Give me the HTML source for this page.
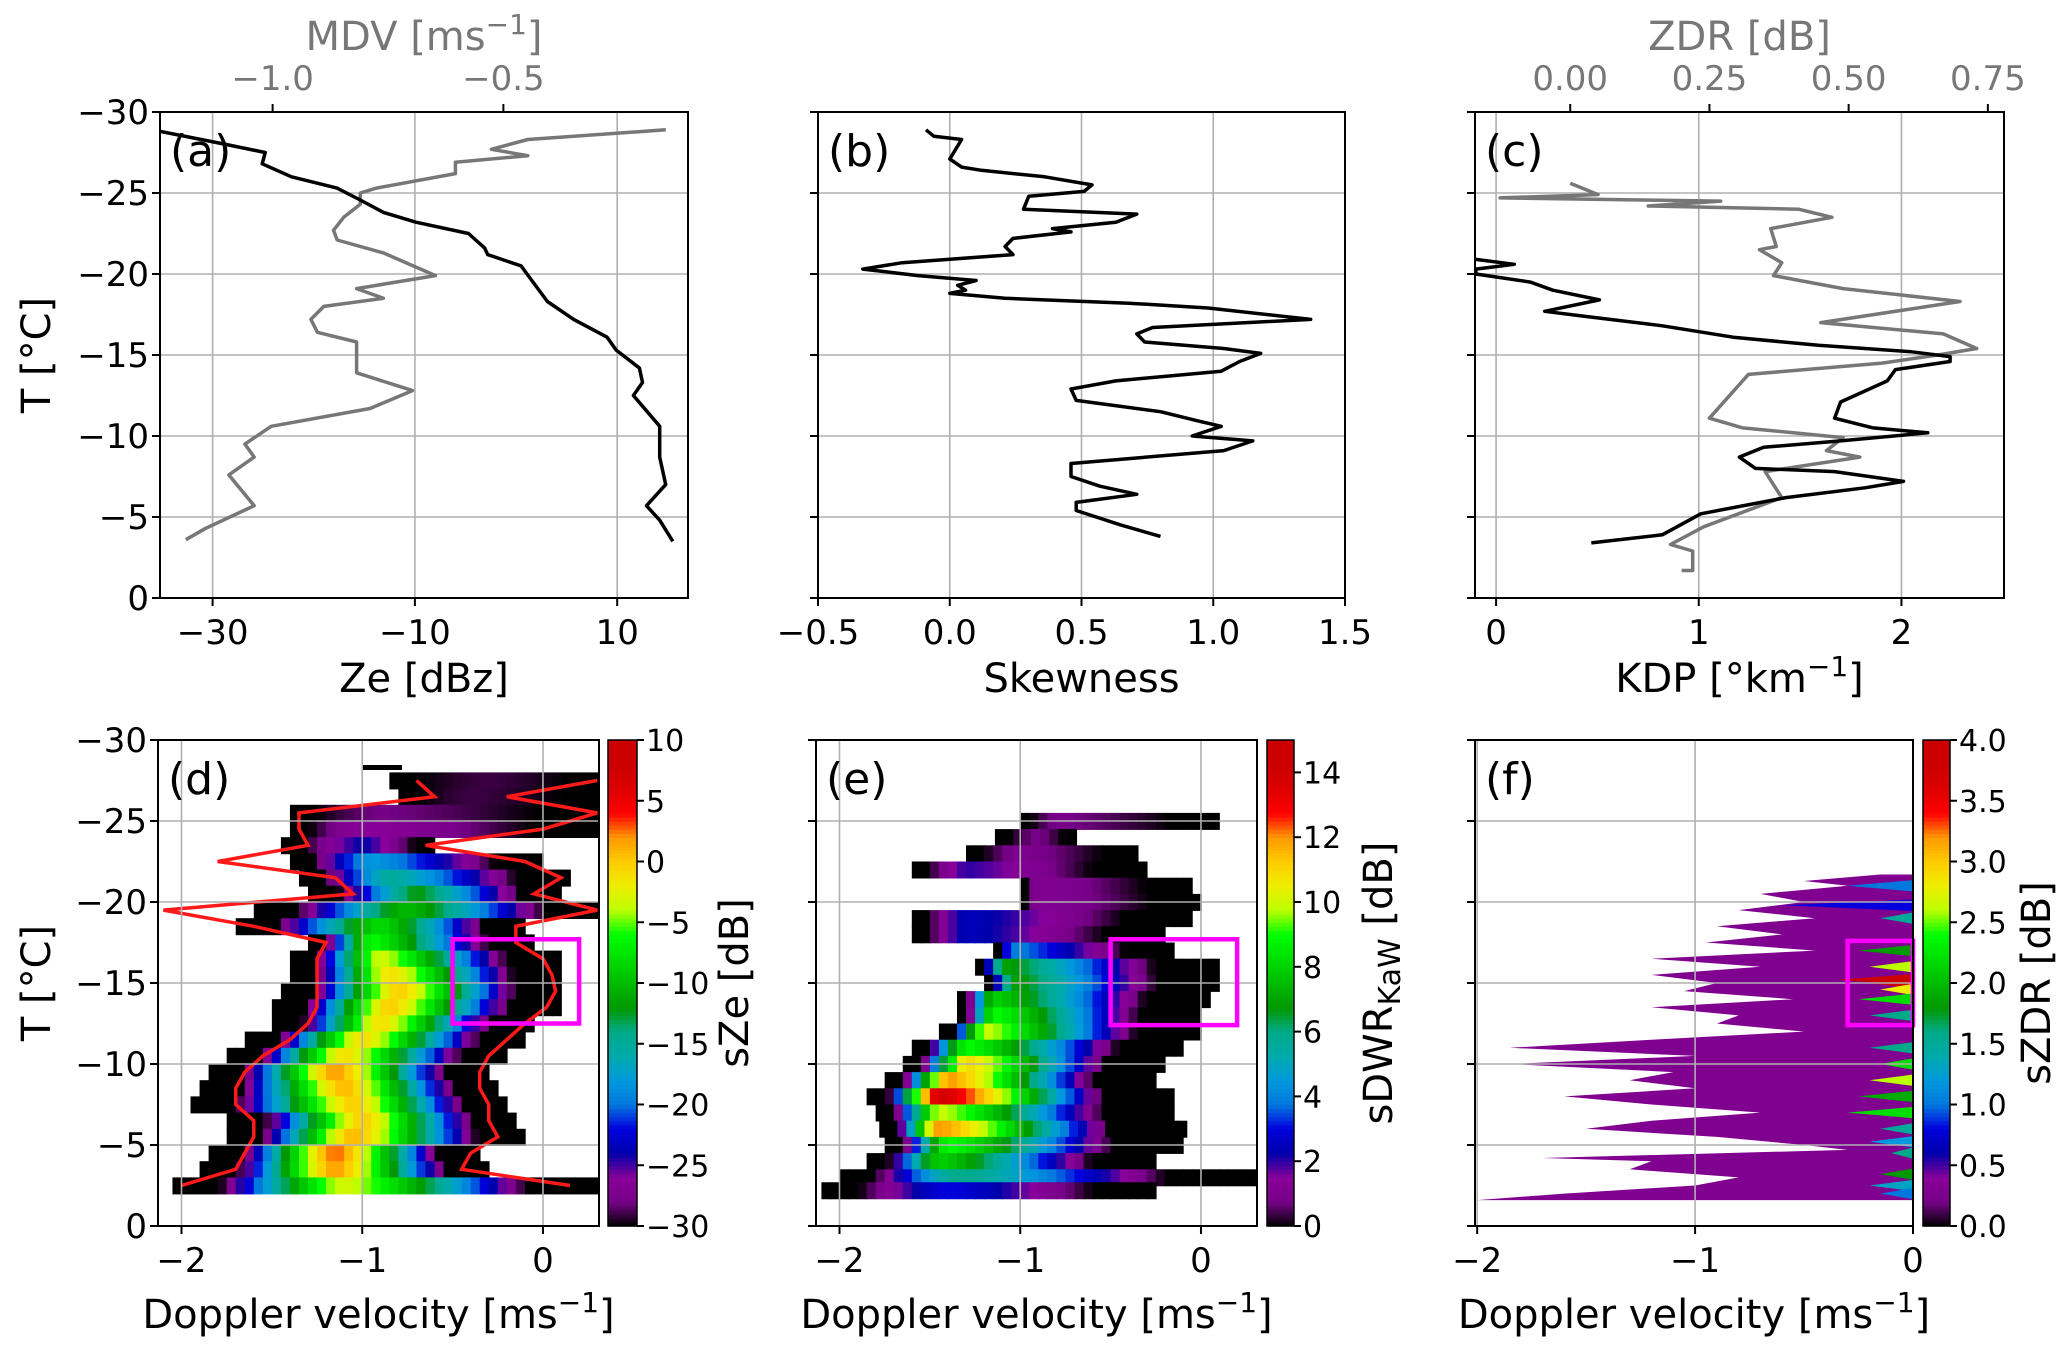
<!DOCTYPE html>
<html><head><meta charset="utf-8"><style>
html,body{margin:0;padding:0;background:#fff;}
svg{display:block;font-family:"DejaVu Sans","Liberation Sans",sans-serif;}
</style></head><body>
<svg id="fig" width="2067" height="1354" viewBox="0 0 2067 1354" xmlns="http://www.w3.org/2000/svg"></svg>
<script>
// ---------- data: panel (a) ----------
const zeT   = [-28.8,-28,-27.5,-26.8,-26,-25.3,-24.6,-23.8,-23.2,-22.5,-21.6,-21.2,-20.5,-19.9,-18.3,-17.2,-16.1,-15.3,-14.2,-13.3,-12.5,-10.6,-8.7,-7.0,-5.7,-4.8,-3.5];
const zeVal = [-35.2,-28.7,-24.8,-25.1,-22.2,-17.7,-15.5,-13.1,-9.9,-4.7,-3.1,-2.8,0.5,1.2,3.1,5.7,9,9.9,12.2,12.5,11.6,14.2,14.2,14.8,12.9,14.2,15.5];
const mdvT   = [-28.9,-28.3,-27.7,-27.3,-26.9,-26.2,-25.3,-25.0,-24.3,-23.5,-22.7,-22.1,-21.3,-19.9,-19.1,-18.5,-18.0,-17.2,-16.4,-15.8,-13.9,-12.8,-11.7,-10.6,-9.5,-8.7,-7.6,-5.7,-4.3,-3.6];
const mdvVal = [-0.148,-0.447,-0.526,-0.447,-0.604,-0.604,-0.775,-0.81,-0.81,-0.846,-0.868,-0.86,-0.76,-0.647,-0.818,-0.76,-0.889,-0.917,-0.903,-0.818,-0.818,-0.697,-0.789,-1.003,-1.06,-1.04,-1.095,-1.04,-1.145,-1.188];
// ---------- data: panel (b) ----------
const skT   = [-28.9,-28.5,-28.3,-27.1,-26.6,-26.4,-26.0,-25.5,-25.1,-24.8,-24.0,-23.7,-23.2,-22.8,-22.6,-22.2,-21.7,-21.2,-20.7,-20.3,-19.9,-19.6,-19.3,-19.0,-18.8,-18.5,-18.2,-17.9,-17.2,-16.7,-16.3,-15.8,-15.4,-15.1,-14.6,-14.0,-13.4,-12.9,-12.2,-11.5,-10.9,-10.6,-10.0,-9.7,-9.1,-8.3,-7.5,-6.9,-6.4,-5.9,-5.4,-4.5,-3.8];
const skVal = [-0.09,-0.06,0.045,0,0.045,0.12,0.36,0.54,0.51,0.30,0.28,0.71,0.63,0.39,0.46,0.24,0.21,0.24,-0.18,-0.33,-0.12,0.10,0.03,0.06,0,0.21,0.68,0.98,1.37,0.77,0.71,0.74,1.04,1.18,1.10,1.03,0.63,0.46,0.48,0.80,0.95,1.03,0.92,1.15,1.04,0.46,0.46,0.57,0.71,0.48,0.48,0.65,0.80];
// ---------- data: panel (c) ----------
const kdpT   = [-20.9,-20.6,-20.3,-20.0,-19.5,-19.0,-18.4,-17.7,-17.4,-16.8,-16.1,-15.6,-15.2,-14.9,-14.6,-14.1,-13.4,-12.1,-11.1,-10.5,-10.2,-9.7,-9.3,-8.7,-8.0,-7.8,-7.2,-6.8,-6.2,-5.2,-3.9,-3.4];
const kdpVal = [-0.10,0.09,-0.1,-0.1,0.17,0.28,0.51,0.24,0.43,0.82,1.17,1.59,2.05,2.24,2.24,1.97,1.93,1.70,1.67,1.86,2.13,1.70,1.32,1.20,1.28,1.67,2.01,1.82,1.43,1.01,0.82,0.47];
const zdrT   = [-25.6,-24.9,-24.7,-24.5,-24.2,-24.0,-23.5,-22.8,-21.7,-21.5,-20.7,-19.9,-19.1,-18.3,-17.0,-16.3,-15.4,-15.0,-14.5,-13.8,-11.1,-10.5,-9.9,-9.1,-8.7,-7.8,-6.2,-4.4,-3.3,-2.9,-1.7,-1.7];
const zdrVal = [0,0.05,-0.126,0.27,0.14,0.41,0.47,0.36,0.37,0.34,0.38,0.365,0.49,0.70,0.45,0.67,0.73,0.66,0.56,0.32,0.25,0.31,0.49,0.46,0.52,0.35,0.38,0.24,0.18,0.22,0.22,0.20];
// ---------- data: panel (d) spectrogram rows ----------
const dT    = [-27.5,-26.5,-25.5,-24.5,-23.5,-22.5,-21.5,-20.5,-19.5,-18.5,-17.5,-16.5,-15.5,-14.5,-13.5,-12.5,-11.5,-10.5,-9.5,-8.5,-7.5,-6.5,-5.5,-4.5,-3.5,-2.5];
const dLeft = [-0.85,-0.8,-1.4,-1.4,-1.45,-1.4,-1.35,-1.3,-1.6,-1.7,-1.3,-1.4,-1.4,-1.45,-1.5,-1.5,-1.65,-1.75,-1.85,-1.9,-1.95,-1.75,-1.75,-1.85,-1.9,-2.05];
const dRight= [0.3,0.3,0.3,0.3,-0.6,0.0,0.12,0.1,0.3,-0.1,-0.05,0.07,0.1,0.1,0.07,-0.05,-0.1,-0.2,-0.3,-0.25,-0.2,-0.15,-0.1,-0.35,-0.3,0.3];
const dPeakV= [-0.3,-0.4,-0.9,-1.0,-1.0,-0.95,-0.85,-0.7,-0.75,-0.9,-0.95,-0.9,-0.85,-0.8,-0.85,-0.9,-1.0,-1.1,-1.15,-1.1,-1.05,-1.0,-1.05,-1.15,-1.15,-1.1];
const dPeak = [-29,-29,-28,-26,-24,-18,-15,-12,-10,-8,-6,-3,-1,0,0,-1,-1,-1,2,1,0,0,1,3,2,-3];
const dRedL = [-0.7,-0.6,-1.35,-1.35,-1.3,-1.8,-1.15,-1.05,-2.1,-1.6,-1.2,-1.25,-1.25,-1.25,-1.25,-1.3,-1.4,-1.55,-1.65,-1.7,-1.7,-1.6,-1.6,-1.65,-1.7,-2.0];
const dRedR = [0.3,-0.2,0.3,0.0,-0.65,-0.1,0.1,-0.05,0.3,-0.15,-0.15,0.0,0.05,0.07,0.02,-0.1,-0.2,-0.3,-0.35,-0.35,-0.3,-0.3,-0.25,-0.4,-0.45,0.15];
// ---------- data: panel (e) ----------
const eT    = [-25,-24,-23,-22,-21,-20,-19,-18,-17,-16,-15,-14,-13,-12,-11,-10,-9,-8,-7,-6,-5,-4,-3,-2.2];
const eLeft = [-1.0,-1.14,-1.3,-1.6,-1.0,-1.0,-1.6,-1.6,-1.15,-1.25,-1.2,-1.35,-1.35,-1.45,-1.6,-1.65,-1.75,-1.85,-1.8,-1.78,-1.75,-1.85,-2.0,-2.1];
const eRight= [0.1,-0.7,-0.35,-0.3,-0.05,0.0,-0.05,-0.2,-0.15,0.1,0.1,0.05,0.0,0.0,-0.1,-0.2,-0.25,-0.15,-0.15,-0.1,-0.1,-0.25,0.3,-0.25];
const ePeakV= [-0.8,-0.9,-1.0,-1.3,-0.9,-0.9,-1.3,-1.3,-1.05,-1.1,-1.05,-1.15,-1.15,-1.2,-1.3,-1.3,-1.4,-1.45,-1.45,-1.45,-1.4,-1.45,-1.35,-1.4];
const ePeak = [0.8,0.8,1,2,1.2,1.2,2.5,2.5,4,7,7,8,9,10,9,11,12,14,10,12,9,8,6,3];
// ---------- data: panel (f) ----------
const fT    = [-21.7,-21.3,-21,-20.5,-20,-19.5,-19,-18.5,-18,-17.5,-17,-16.5,-16,-15.5,-15,-14.5,-14,-13.5,-13,-12.5,-12,-11.5,-11,-10.5,-10,-9.5,-9,-8.5,-8,-7.5,-7,-6.5,-6,-5.5,-5,-4.7,-4.2,-4,-3.5,-3,-2.5,-2,-1.6];
const fLeft = [-0.15,-0.5,-0.3,-0.7,-0.5,-0.8,-0.45,-0.9,-0.6,-0.95,-0.45,-1.2,-0.7,-1.2,-0.9,-1.05,-0.55,-1.2,-0.8,-0.9,-0.5,-1.2,-1.85,-1.0,-1.85,-1.1,-1.3,-1.0,-1.6,-1.2,-0.7,-1.2,-1.5,-0.9,-0.5,-0.3,-1.7,-1.2,-1.3,-0.8,-1.0,-1.6,-2.0];
const fStreakT = [-21,-19.8,-19,-17,-16,-15.2,-15,-14.6,-14,-13,-11,-10,-9,-8,-7,-6,-5.2,-4.5,-3.2,-2.5,-2];
const fStreakV = [-0.3,-0.6,-0.15,-0.25,-0.2,-0.35,-0.2,-0.15,-0.25,-0.2,-0.2,-0.15,-0.2,-0.25,-0.3,-0.15,-0.2,-0.1,-0.15,-0.2,-0.15];
const fStreakZ = [1.0,0.8,1.5,1.8,2.6,3.8,3.9,2.8,2.2,1.6,1.6,2.2,2.6,1.9,2.2,1.5,1.2,1.6,1.8,1.3,1.0];
// ---------- ticks ----------
const tTicks = [-30,-25,-20,-15,-10,-5,0];
const zeTicks = [-30,-10,10];
const mdvTicks = [-1.0,-0.5];
const skTicks = [-0.5,0.0,0.5,1.0,1.5];
const kdpTicks = [0,1,2];
const zdrTicks = [0.00,0.25,0.50,0.75];
const velTicks = [-2,-1,0];
const cbDTicks = [-30,-25,-20,-15,-10,-5,0,5,10];
const cbETicks = [0,2,4,6,8,10,12,14];
const cbFTicks = [0.0,0.5,1.0,1.5,2.0,2.5,3.0,3.5,4.0];

const NS='http://www.w3.org/2000/svg';
const svg=document.getElementById('fig');
function el(tag,attrs,parent){const e=document.createElementNS(NS,tag);for(const k in attrs)e.setAttribute(k,attrs[k]);(parent||svg).appendChild(e);return e;}
function lin(d0,d1,r0,r1){return v=>r0+(v-d0)*(r1-r0)/(d1-d0);}
function fmt(v,d){return (v<0?'\u2212':'')+Math.abs(v).toFixed(d);}
const NR=[0,0.4667,0.5333,0,0,0,0,0,0,0,0,0,0,0.7333,0.9333,1,1,1,0.8667,0.8,0.8];
const NG=[0,0,0,0,0,0.4667,0.6,0.6667,0.6667,0.6,0.7333,0.8667,1,1,0.9333,0.8,0.6,0,0,0,0.8];
const NB=[0,0.5333,0.6,0.6667,0.8667,0.8667,0.8667,0.6667,0.5333,0,0,0,0,0,0,0,0,0,0,0,0.8];
function cmap(t){t=Math.max(0,Math.min(0.95,t));const p=t*20,i=Math.min(19,Math.floor(p)),f=p-i;
 const c=a=>Math.round(255*(a[i]+(a[i+1]-a[i])*f));return `rgb(${c(NR)},${c(NG)},${c(NB)})`;}

const Y0top=112,Y0bot=598,Y1top=740,Y1bot=1226;
const TS=34, LS=40, CTS=30;
function panel(name,x0,x1,yt,yb,xmin,xmax,showY){
  const g=el('g',{});
  
  
  const sx=lin(xmin,xmax,x0,x1), sy=lin(-30,0,yt,yb);
  return {g,sx,sy,x0,x1,yt,yb,showY};
}
function grid(P,xt){
  for(const t of tTicks){ if(t===-30||t===0) continue;
    const l=el('line',{x1:P.x0,x2:P.x1,y1:P.sy(t),y2:P.sy(t),stroke:'#b0b0b0','stroke-width':1.6},P.g);
    
    }
  for(const v of xt){ const x=P.sx(v); if(x<=P.x0+1||x>=P.x1-1) continue;
    const l=el('line',{x1:x,x2:x,y1:P.yt,y2:P.yb,stroke:'#b0b0b0','stroke-width':1.6},P.g);
    
    }
}
function frame(P,xt,dec,xlabel,xlabY){
  const r=el('rect',{x:P.x0,y:P.yt,width:P.x1-P.x0,height:P.yb-P.yt,fill:'none',stroke:'#000','stroke-width':2},P.g);
  
  
  for(const t of tTicks){const y=P.sy(t);
    const tk=el('line',{x1:P.x0-8,x2:P.x0,y1:y,y2:y,stroke:'#000','stroke-width':2},P.g);
    
    
    if(P.showY){const tx=el('text',{x:P.x0-11,y:y+12,'text-anchor':'end','font-size':TS},P.g);tx.textContent=fmt(t,0);
      
      }}
  for(const v of xt){const x=P.sx(v);
    const tk=el('line',{x1:x,x2:x,y1:P.yb,y2:P.yb+8,stroke:'#000','stroke-width':2},P.g);
    
    
    const tx=el('text',{x:x,y:P.yb+46,'text-anchor':'middle','font-size':TS},P.g);tx.textContent=fmt(v,dec);
    
    }
  const xl=el('text',{x:(P.x0+P.x1)/2,y:xlabY,'text-anchor':'middle','font-size':LS},P.g);
  xl.innerHTML=xlabel;
  
  
}
function letter(P,s){const t=el('text',{x:P.x0+10,y:P.yt+54,'font-size':44},P.g);t.textContent=s;
  
  }
function line(P,sx,T,V,color,name){
  const pts=T.map((t,i)=>sx(V[i]).toFixed(1)+','+P.sy(t).toFixed(1)).join(' ');
  const p=el('polyline',{points:pts,fill:'none',stroke:color,'stroke-width':3.5,'stroke-linejoin':'round'},P.g);
  
  
}
function clip(P,id){const c=el('clipPath',{id:id},P.g);el('rect',{x:P.x0,y:P.yt,width:P.x1-P.x0,height:P.yb-P.yt},c);return `url(#${id})`;}
function topAxis(P,sx,ticks,dec,label){
  for(const v of ticks){const x=sx(v);
    const tk=el('line',{x1:x,x2:x,y1:P.yt-8,y2:P.yt,stroke:'#000','stroke-width':2},P.g);
    
    
    const tx=el('text',{x:x,y:P.yt-22,'text-anchor':'middle','font-size':TS,fill:'#777'},P.g);tx.textContent=fmt(v,dec);
    
    }
  const tl=el('text',{x:(P.x0+P.x1)/2,y:P.yt-62,'text-anchor':'middle','font-size':LS,fill:'#777'},P.g);tl.innerHTML=label;
  
  
}
function ylabel(y){const t=el('text',{x:0,y:0,'text-anchor':'middle','font-size':LS,transform:`translate(50,${y}) rotate(-90)`});
  t.textContent='T [\u00B0C]';
  
  }
function colorbar(x0,x1,yt,yb,vmin,vmax,ticks,dec,label,lx,name){
  const g=el('g',{});
  
  
  const n=120,h=(yb-yt)/n;
  for(let i=0;i<n;i++){el('rect',{x:x0,y:yb-(i+1)*h,width:x1-x0,height:h+0.6,fill:cmap((i+0.5)/n)},g);}
  el('rect',{x:x0,y:yt,width:x1-x0,height:yb-yt,fill:'none',stroke:'#000','stroke-width':1.5},g);
  const s=lin(vmin,vmax,yb,yt);
  for(const v of ticks){const y=s(v);
    const tk=el('line',{x1:x1,x2:x1+7,y1:y,y2:y,stroke:'#000','stroke-width':2},g);
    
    
    const tx=el('text',{x:x1+9,y:y+11,'font-size':CTS},g);tx.textContent=fmt(v,dec);
    
    }
  const t=el('text',{x:0,y:0,'text-anchor':'middle','font-size':LS,transform:`translate(${lx},${(yt+yb)/2}) rotate(-90)`},g);
  t.innerHTML=label;
  
  
}
function magenta(P,v0,v1,t0,t1){const r=el('rect',{x:P.sx(v0),y:P.sy(t0),width:P.sx(v1)-P.sx(v0),height:P.sy(t1)-P.sy(t0),fill:'none',stroke:'#ff00ff','stroke-width':4.5},P.g);
  
  }
function spectro(P,T,L,R,PV,PK,vmin,vmax,dT,step,cid,shrink){
  const cg=el('g',{'clip-path':clip(P,cid)},P.g);
  
  
  for(let i=0;i<T.length;i++){
    const y0=P.sy(T[i]-dT/2), y1=P.sy(T[i]+dT/2);
    for(let v=L[i];v<R[i]-1e-6;v+=step){
      const vc=v+step/2; const half=vc<PV[i]?(PV[i]-L[i]):(R[i]-PV[i]);
      let d=Math.abs(vc-PV[i])/Math.max(half*shrink,0.05); d=Math.min(1,d);
      const val=PK[i]-(PK[i]-vmin)*Math.pow(d,1.3);
      el('rect',{x:P.sx(v),y:y0,width:P.sx(v+step)-P.sx(v)+0.8,height:y1-y0+0.8,fill:cmap((val-vmin)/(vmax-vmin))},cg);
    }
  }
}

// ===== (a) =====
let A=panel('panel-a-ze-mdv',160,688,Y0top,Y0bot,-35.2,17,true);
grid(A,zeTicks);
const cA=clip(A,'ca');
const sMDV=lin(-1.244,-0.10,160,688);
{const g=el('g',{'clip-path':cA},A.g);const P={...A,g};
 line(P,sMDV,mdvT,mdvVal,'#777','mdv-line');
 line(P,A.sx,zeT,zeVal,'#000','ze-line');}
frame(A,zeTicks,0,'Ze [dBz]',692);
topAxis(A,sMDV,mdvTicks,1,'MDV [ms<tspan dy="-16" font-size="28">\u22121</tspan><tspan dy="16">]</tspan>');
letter(A,'(a)');
ylabel((Y0top+Y0bot)/2);

// ===== (b) =====
let B=panel('panel-b-skewness',818,1345,Y0top,Y0bot,-0.5,1.5,false);
grid(B,skTicks);
{const g=el('g',{'clip-path':clip(B,'cb')},B.g);line({...B,g},B.sx,skT,skVal,'#000','skewness-line');}
frame(B,skTicks,1,'Skewness',692);
letter(B,'(b)');

// ===== (c) =====
let C=panel('panel-c-kdp-zdr',1475,2004,Y0top,Y0bot,-0.104,2.506,false);
grid(C,kdpTicks);
const sZDR=lin(-0.171,0.779,1475,2004);
{const g=el('g',{'clip-path':clip(C,'cc')},C.g);const P={...C,g};
 line(P,sZDR,zdrT,zdrVal,'#777','zdr-line');
 line(P,C.sx,kdpT,kdpVal,'#000','kdp-line');}
frame(C,kdpTicks,0,'KDP [\u00B0km<tspan dy="-16" font-size="28">\u22121</tspan><tspan dy="16">]</tspan>',692);
topAxis(C,sZDR,zdrTicks,2,'ZDR [dB]');
letter(C,'(c)');

const VL='Doppler velocity [ms<tspan dy="-16" font-size="28">\u22121</tspan><tspan dy="16">]</tspan>';
// ===== (d) =====
let D=panel('panel-d-sze',158,599,Y1top,Y1bot,-2.13,0.31,true);
spectro(D,dT,dLeft,dRight,dPeakV,dPeak,-30,10,1,0.05,'cd',0.72);
{const g=el('g',{'clip-path':'url(#cd)'},D.g);
 const b=el('line',{x1:D.sx(-1.0),x2:D.sx(-0.78),y1:D.sy(-28.3),y2:D.sy(-28.3),stroke:'#000','stroke-width':5},g);
 
 
 const rl=el('polyline',{points:dT.map((t,i)=>D.sx(dRedL[i])+','+D.sy(t)).join(' '),fill:'none',stroke:'#ff1a1a','stroke-width':3.5},g);
 
 
 const rr=el('polyline',{points:dT.map((t,i)=>D.sx(dRedR[i])+','+D.sy(t)).join(' '),fill:'none',stroke:'#ff1a1a','stroke-width':3.5},g);
 
 }
grid(D,velTicks);
magenta(D,-0.5,0.2,-17.7,-12.5);
frame(D,velTicks,0,VL,1328);
letter(D,'(d)');
ylabel((Y1top+Y1bot)/2);
colorbar(608,637,Y1top,Y1bot,-30,10,cbDTicks,0,'sZe [dB]',748,'colorbar-sze');

// ===== (e) =====
let E=panel('panel-e-sdwr',816,1257,Y1top,Y1bot,-2.13,0.31,false);
spectro(E,eT,eLeft,eRight,ePeakV,ePeak,0,15,1,0.05,'ce',0.7);
grid(E,velTicks);
magenta(E,-0.5,0.2,-17.7,-12.4);
frame(E,velTicks,0,VL,1328);
letter(E,'(e)');
colorbar(1267,1294,Y1top,Y1bot,0,15,cbETicks,0,'sDWR<tspan font-size="30" dy="8">KaW</tspan><tspan dy="-8"> [dB]</tspan>',1392,'colorbar-sdwr');

// ===== (f) =====
let F=panel('panel-f-szdr',1475,1913,Y1top,Y1bot,-2.01,0,false);
{const g=el('g',{'clip-path':clip(F,'cf')},F.g);
 const pts=[F.sx(0)+','+F.sy(fT[0])].concat(fT.map((t,i)=>F.sx(fLeft[i])+','+F.sy(t))).concat([F.sx(0)+','+F.sy(fT[fT.length-1])]);
 const p=el('polygon',{points:pts.join(' '),fill:cmap(0.3/4)},g);
 
 
 for(let i=0;i<fStreakT.length;i++){const s=el('polygon',{points:`${F.sx(fStreakV[i])},${F.sy(fStreakT[i])} ${F.sx(0)},${F.sy(fStreakT[i]-0.35)} ${F.sx(0)},${F.sy(fStreakT[i]+0.35)}`,fill:cmap(fStreakZ[i]/4)},g);
   
   }}
grid(F,velTicks);
magenta(F,-0.3,0,-17.6,-12.4);
frame(F,velTicks,0,VL,1328);
letter(F,'(f)');
colorbar(1923,1950,Y1top,Y1bot,0,4,cbFTicks,1,'sZDR [dB]',2050,'colorbar-szdr');
</script>
</body></html>
